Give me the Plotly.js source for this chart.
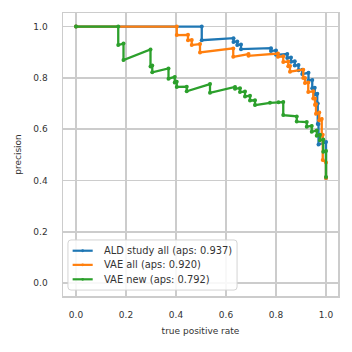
<!DOCTYPE html>
<html>
<head>
<meta charset="utf-8">
<script src="https://cdn.plot.ly/plotly-3.0.1.min.js"></script>
<style>html,body{margin:0;padding:0;background:#fff;}#chart{width:352px;height:352px;}</style>
</head>
<body>
<div id="chart"></div>
<script>
// ALD study all
const aldRecall = [0, 0.503, 0.503, 0.63, 0.63, 0.645, 0.645, 0.66, 0.66, 0.78, 0.78, 0.80, 0.80, 0.845, 0.845, 0.86, 0.86, 0.875, 0.875, 0.89, 0.89, 0.905, 0.905, 0.93, 0.93, 0.945, 0.945, 0.955, 0.955, 0.965, 0.965, 0.967, 0.967, 0.97, 0.97, 1.0, 1.0];
const aldPrecision = [1, 1, 0.947, 0.955, 0.94, 0.942, 0.928, 0.93, 0.912, 0.916, 0.905, 0.907, 0.89, 0.893, 0.878, 0.88, 0.863, 0.865, 0.848, 0.85, 0.83, 0.832, 0.815, 0.82, 0.79, 0.792, 0.76, 0.762, 0.735, 0.738, 0.70, 0.70, 0.62, 0.62, 0.54, 0.55, 0.41];
// VAE all
const vaeAllRecall = [0, 0.403, 0.403, 0.448, 0.448, 0.463, 0.463, 0.496, 0.496, 0.629, 0.629, 0.69, 0.69, 0.808, 0.808, 0.829, 0.829, 0.849, 0.849, 0.856, 0.856, 0.909, 0.909, 0.916, 0.916, 0.929, 0.929, 0.949, 0.949, 0.956, 0.956, 0.96, 0.96, 0.973, 0.973, 0.983, 0.983, 0.987, 0.987, 1.0, 1.0];
const vaeAllPrecision = [1, 1, 0.967, 0.968, 0.947, 0.948, 0.928, 0.932, 0.899, 0.915, 0.882, 0.893, 0.886, 0.895, 0.882, 0.884, 0.862, 0.864, 0.845, 0.846, 0.824, 0.832, 0.80, 0.80, 0.78, 0.782, 0.745, 0.748, 0.72, 0.72, 0.695, 0.697, 0.66, 0.665, 0.635, 0.64, 0.575, 0.578, 0.48, 0.47, 0.41];
// VAE new
const vaeNewRecall = [0, 0.169, 0.169, 0.19, 0.19, 0.298, 0.298, 0.305, 0.305, 0.37, 0.37, 0.395, 0.395, 0.403, 0.403, 0.443, 0.443, 0.536, 0.536, 0.636, 0.636, 0.656, 0.656, 0.676, 0.676, 0.696, 0.696, 0.716, 0.716, 0.776, 0.81, 0.829, 0.829, 0.883, 0.883, 0.923, 0.923, 0.943, 0.943, 0.963, 0.963, 0.976, 0.976, 0.989, 0.989, 1.0, 1.0];
const vaeNewPrecision = [1, 1, 0.928, 0.934, 0.870, 0.911, 0.844, 0.848, 0.822, 0.837, 0.797, 0.804, 0.782, 0.785, 0.765, 0.766, 0.748, 0.776, 0.742, 0.765, 0.758, 0.760, 0.745, 0.747, 0.728, 0.730, 0.712, 0.713, 0.694, 0.703, 0.705, 0.706, 0.655, 0.65, 0.63, 0.628, 0.61, 0.613, 0.59, 0.595, 0.575, 0.578, 0.557, 0.56, 0.512, 0.515, 0.414];

const seriesNames = ["ALD study all (aps: 0.937)", "VAE all (aps: 0.920)", "VAE new (aps: 0.792)"];
const colors = ["#1f77b4", "#ff7f0e", "#2ca02c"];
const xs = [aldRecall, vaeAllRecall, vaeNewRecall];
const ys = [aldPrecision, vaeAllPrecision, vaeNewPrecision];
const tickVals = [0, 0.2, 0.4, 0.6, 0.8, 1.0];
const tickText = ["0.0", "0.2", "0.4", "0.6", "0.8", "1.0"];

const traces = xs.map((x, i) => ({
  x: x, y: ys[i], name: seriesNames[i], type: "scatter", mode: "lines+markers",
  line: {color: colors[i], width: 2.3},
  marker: {color: colors[i], size: 4},
  showlegend: false
}));

const font = {family: "DejaVu Sans, sans-serif", size: 9, color: "#333"};
const legendFont = {family: "DejaVu Sans, sans-serif", size: 9.9, color: "#333"};

// compact legend, drawn in paper coordinates
const legendRowsY = [0.160, 0.110, 0.059];
const shapes = [];
const annotations = [];
const bx0 = 0.018, bx1 = 0.633, by0 = 0.021, by1 = 0.198, rx = 0.011, ry = 0.011;
shapes.push({
  type: "path", xref: "paper", yref: "paper",
  path: `M ${bx0 + rx} ${by0} L ${bx1 - rx} ${by0} Q ${bx1} ${by0} ${bx1} ${by0 + ry} L ${bx1} ${by1 - ry} Q ${bx1} ${by1} ${bx1 - rx} ${by1} L ${bx0 + rx} ${by1} Q ${bx0} ${by1} ${bx0} ${by1 - ry} L ${bx0} ${by0 + ry} Q ${bx0} ${by0} ${bx0 + rx} ${by0} Z`,
  line: {color: "#d4d4d4", width: 1}, fillcolor: "rgba(255,255,255,0.85)", layer: "above"
});
seriesNames.forEach((name, i) => {
  const yy = legendRowsY[i];
  shapes.push({type: "line", xref: "paper", yref: "paper", x0: 0.035, x1: 0.108, y0: yy, y1: yy,
    line: {color: colors[i], width: 2.2}, layer: "above"});
  shapes.push({type: "circle", xref: "paper", yref: "paper", x0: 0.0715 - 0.005, x1: 0.0715 + 0.005,
    y0: yy - 0.005, y1: yy + 0.005, line: {color: colors[i], width: 0}, fillcolor: colors[i], layer: "above"});
  annotations.push({xref: "paper", yref: "paper", x: 0.14, y: yy, xanchor: "left", yanchor: "middle",
    text: name, showarrow: false, font: legendFont});
});

const layout = {
  width: 352, height: 352,
  margin: {l: 63, r: 14, t: 13, b: 56},
  paper_bgcolor: "#fff", plot_bgcolor: "#fff",
  font: font,
  showlegend: false,
  shapes: shapes,
  annotations: annotations,
  xaxis: {range: [-0.052, 1.048], tickvals: tickVals, ticktext: tickText,
    showgrid: true, gridcolor: "#cccccc", gridwidth: 1.5, zeroline: false,
    showline: true, mirror: true, linecolor: "#cccccc", linewidth: 1.5,
    ticks: "", ticklabelstandoff: 10,
    title: {text: "true positive rate", font: font, standoff: 8}},
  yaxis: {range: [-0.05, 1.053], tickvals: tickVals, ticktext: tickText,
    showgrid: true, gridcolor: "#cccccc", gridwidth: 1.5, zeroline: false,
    showline: true, mirror: true, linecolor: "#cccccc", linewidth: 1.5,
    ticks: "", ticklabelstandoff: 12,
    title: {text: "precision", font: font, standoff: 10}}
};
Plotly.newPlot("chart", traces, layout, {displayModeBar: false, staticPlot: true});
</script>
</body>
</html>
